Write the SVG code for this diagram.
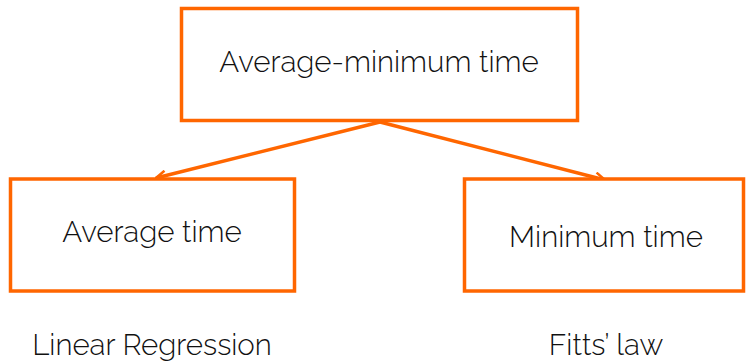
<svg xmlns="http://www.w3.org/2000/svg" width="746" height="362" viewBox="0 0 746 362">
<style>
.box{fill:#fff;stroke:#ff6600;stroke-width:3.5}
.lbl{font-family:Raleway,Lato,"Open Sans",sans-serif;font-weight:300;fill:#111;text-anchor:middle;font-size:29.5px}
.edge{stroke:#ff6600;stroke-width:3.5;fill:none}
</style>
<defs>
<marker id="arr" viewBox="0 0 12 12" refX="11" refY="6" markerWidth="12" markerHeight="12" markerUnits="userSpaceOnUse" orient="auto">
<path d="M1,1 L11,6 L1,11" fill="none" stroke="#ff6600" stroke-width="2.5"/>
</marker>
</defs>
<rect width="746" height="362" fill="#fff"/>
<g id="connectors">
<line class="edge" x1="380" y1="122" x2="156" y2="178" marker-end="url(#arr)"/>
<line class="edge" x1="380" y1="122" x2="605" y2="180" marker-end="url(#arr)"/>
</g>
<g id="top">
<rect class="box" x="181.5" y="8.5" width="396" height="112"/>
<text class="lbl" x="379" y="72">Average-minimum time</text>
</g>
<g id="avg">
<rect class="box" x="10.5" y="179" width="284" height="112"/>
<text class="lbl" x="152" y="242">Average time</text>
</g>
<g id="min">
<rect class="box" x="464.5" y="179" width="279" height="112"/>
<text class="lbl" x="606" y="247">Minimum time</text>
</g>
<g id="notes">
<text class="lbl" x="152" y="355">Linear Regression</text>
<text class="lbl" x="606" y="355">Fitts’ law</text>
</g>
</svg>
